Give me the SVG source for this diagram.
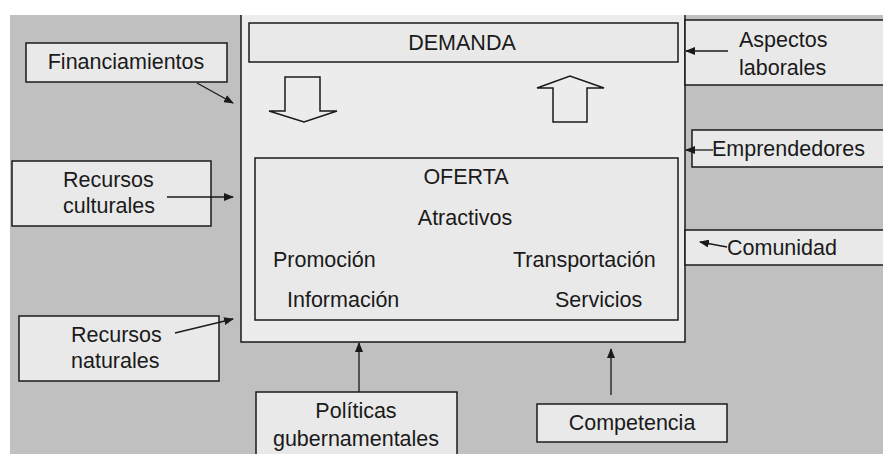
<svg xmlns="http://www.w3.org/2000/svg" width="883" height="454" viewBox="0 0 883 454">
<style>
.box{fill:#e9e9e9;stroke:#1a1a1a;stroke-width:1.5}
.t{font-family:"Liberation Sans",Arial,sans-serif;font-size:21.5px;fill:#1a1a1a}
.c{text-anchor:middle}
.ln{stroke:#1a1a1a;stroke-width:1.3;fill:none;marker-end:url(#ah)}
.blk{fill:#ececec;stroke:#1a1a1a;stroke-width:1.5;stroke-linejoin:miter}
</style>
<defs>
<marker id="ah" markerWidth="10" markerHeight="8" refX="9" refY="4" orient="auto" markerUnits="userSpaceOnUse">
<path d="M0,0 L10,4 L0,8 z" fill="#1a1a1a"/>
</marker>
</defs>
<rect x="0" y="0" width="883" height="454" fill="#ffffff"/>
<rect x="10" y="15" width="873" height="439" fill="#c0c0c0"/>

<g id="main">
<rect x="241" y="15" width="444" height="327" fill="#ececec"/>
<path d="M241,15 V342 H685 V15" fill="none" stroke="#1a1a1a" stroke-width="1.5"/>
</g>

<g id="demanda">
<rect class="box" x="249" y="23" width="429" height="39"/>
<text class="t c" x="462" y="50">DEMANDA</text>
</g>

<g id="flecha-abajo">
<path class="blk" d="M285,77 H320 V111 H337 L304,122 L269,111 H285 Z"/>
</g>
<g id="flecha-arriba">
<path class="blk" d="M553,122 V88 H537 L570,76 L604,88 H587 V122 Z"/>
</g>

<g id="oferta">
<rect class="box" x="255" y="158" width="423" height="162"/>
<text class="t c" x="466" y="184">OFERTA</text>
<text class="t c" x="465" y="225">Atractivos</text>
<text class="t" x="273" y="267">Promoción</text>
<text class="t" x="513" y="267">Transportación</text>
<text class="t" x="287" y="307">Información</text>
<text class="t" x="555" y="307">Servicios</text>
</g>

<g id="financiamientos">
<rect class="box" x="26" y="43" width="201" height="39"/>
<text class="t c" x="126" y="69">Financiamientos</text>
</g>

<g id="recursos-culturales">
<rect class="box" x="12" y="161" width="199" height="65"/>
<text class="t" x="63" y="187">Recursos</text>
<text class="t" x="63" y="213">culturales</text>
</g>

<g id="recursos-naturales">
<rect class="box" x="19" y="316" width="200" height="65"/>
<text class="t" x="71" y="342">Recursos</text>
<text class="t" x="71" y="368">naturales</text>
</g>

<g id="aspectos">
<rect class="box" x="685" y="20" width="200" height="65"/>
<text class="t" x="739" y="47">Aspectos</text>
<text class="t" x="739" y="75">laborales</text>
</g>

<g id="emprendedores">
<rect class="box" x="692" y="130" width="193" height="37"/>
<text class="t" x="712" y="156">Emprendedores</text>
</g>

<g id="comunidad">
<rect class="box" x="685" y="230" width="200" height="35"/>
<text class="t" x="727" y="255">Comunidad</text>
</g>

<g id="politicas">
<rect class="box" x="256" y="392" width="201" height="70"/>
<text class="t c" x="356" y="418">Políticas</text>
<text class="t c" x="356" y="446">gubernamentales</text>
</g>

<g id="competencia">
<rect class="box" x="537" y="404" width="190" height="38"/>
<text class="t c" x="632" y="430">Competencia</text>
</g>

<g id="conectores">
<line class="ln" x1="197" y1="83" x2="233" y2="103"/>
<line class="ln" x1="167" y1="197" x2="233" y2="197"/>
<line class="ln" x1="175" y1="333" x2="233" y2="319"/>
<line class="ln" x1="728" y1="51" x2="686" y2="51"/>
<line class="ln" x1="713" y1="150" x2="686" y2="150"/>
<line class="ln" x1="727" y1="247" x2="700" y2="242"/>
<line class="ln" x1="359" y1="392" x2="359" y2="343"/>
<line class="ln" x1="611" y1="395" x2="611" y2="349"/>
</g>
</svg>
